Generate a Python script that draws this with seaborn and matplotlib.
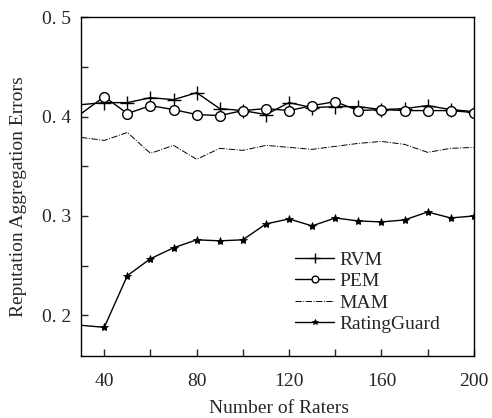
import numpy as np
import pandas as pd
import matplotlib
matplotlib.use('Agg')
import matplotlib.pyplot as plt
import seaborn as sns

raters = [30, 40, 50, 60, 70, 80, 90, 100, 110, 120, 130, 140, 150, 160, 170, 180, 190, 200]
rvm = [0.412, 0.414, 0.414, 0.419, 0.417, 0.424, 0.408, 0.406, 0.402, 0.414, 0.409,
       0.410, 0.410, 0.407, 0.408, 0.411, 0.407, 0.405]
pem = [0.403, 0.420, 0.403, 0.411, 0.407, 0.402, 0.401, 0.406, 0.408, 0.406, 0.411,
       0.415, 0.406, 0.407, 0.406, 0.406, 0.406, 0.404]
mam = [0.379, 0.376, 0.384, 0.363, 0.371, 0.357, 0.368, 0.366, 0.371, 0.369, 0.367,
       0.370, 0.373, 0.375, 0.372, 0.364, 0.368, 0.369]
ratingguard = [0.190, 0.188, 0.240, 0.257, 0.268, 0.276, 0.275, 0.276, 0.292, 0.297,
               0.290, 0.298, 0.295, 0.294, 0.296, 0.304, 0.298, 0.300]

yticks = [0.2, 0.3, 0.4, 0.5]
ytick_labels = ['0. 2', '0. 3', '0. 4', '0. 5']
xticks = [40, 80, 120, 160, 200]

sns.set_style('ticks')
plt.rcParams['font.family'] = ['Liberation Serif', 'DejaVu Serif']
plt.rcParams['xtick.direction'] = 'in'
plt.rcParams['ytick.direction'] = 'in'

fig = plt.figure(figsize=(4.92, 4.18), dpi=100)
ax = fig.add_axes([0.165, 0.148, 0.798, 0.811])

every = slice(1, None)
sns.lineplot(x=raters, y=rvm, ax=ax, color='black', lw=1, marker='+', ms=10,
             mec='black', mew=1, markevery=every, label='RVM')
sns.lineplot(x=raters, y=pem, ax=ax, color='black', lw=1, marker='o', ms=7,
             mfc='white', mec='black', mew=1, markevery=every, label='PEM')
sns.lineplot(x=raters, y=mam, ax=ax, color='black', lw=0.7, ls='-.', label='MAM')
sns.lineplot(x=raters, y=ratingguard, ax=ax, color='black', lw=1, marker='*', ms=6,
             mec='black', mew=0.6, markevery=every, label='RatingGuard')

ax.set_xlim(30, 200)
ax.set_ylim(0.159, 0.5)
ax.set_xticks(xticks)
ax.set_xticks([60, 100, 140, 180], minor=True)
ax.set_yticks(yticks)
ax.set_yticklabels(ytick_labels)
ax.set_yticks([0.25, 0.35, 0.45], minor=True)
ax.tick_params(which='both', length=5, width=1, labelsize=14)
ax.tick_params(axis='x', pad=12)
ax.tick_params(axis='y', pad=7)
for s in ax.spines.values():
    s.set_linewidth(1)
    s.set_color('black')

ax.set_xlabel('Number of Raters', fontsize=14)
ax.set_ylabel('Reputation Aggregation Errors', fontsize=14)
ax.xaxis.set_label_coords(0.504, -0.13)
ax.yaxis.set_label_coords(-0.138, 0.47)

ax.legend(loc='lower left', bbox_to_anchor=(0.525, 0.045), frameon=False, fontsize=14,
          handlelength=2.0, handletextpad=0.3, labelspacing=0.2, borderaxespad=0,
          markerscale=0.7)

fig.savefig('out.png', dpi=100)
